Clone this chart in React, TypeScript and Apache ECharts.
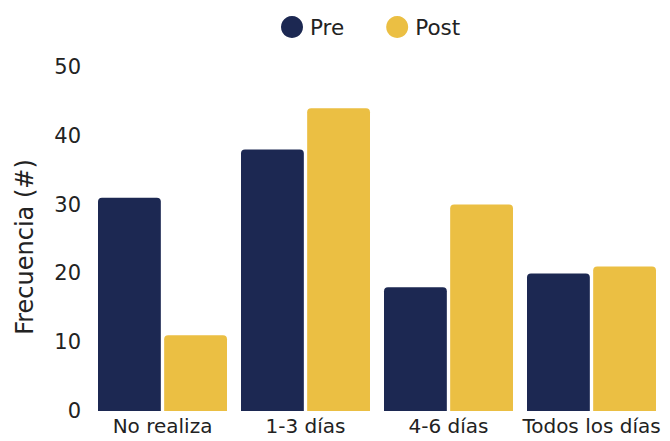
import React, { useEffect, useRef } from "react";
import * as echarts from "echarts";

const categories = ["No realiza", "1-3 días", "4-6 días", "Todos los días"];
const preValues = [31, 38, 18, 20];
const postValues = [11, 44, 30, 21];
const yTicks = { min: 0, max: 50, interval: 10 };

const FONT = "DejaVu Sans";

export default function App() {
  const ref = useRef<HTMLDivElement>(null);
  useEffect(() => {
    if (!ref.current) return;
    const chart = echarts.init(ref.current, null, { renderer: "svg" });
    chart.setOption({
      animation: false,
      textStyle: { fontFamily: FONT },
      legend: {
        top: 11,
        left: 276,
        itemWidth: 22,
        itemHeight: 22,
        itemGap: 42,
        icon: "circle",
        textStyle: { fontSize: 21.5, color: "#222", fontFamily: FONT, padding: [0, 0, 0, 2] },
        data: ["Pre", "Post"],
      },
      grid: { left: 91, right: 7, top: 67, bottom: 30, containLabel: false },
      xAxis: {
        type: "category",
        data: categories,
        axisLine: { show: false },
        axisTick: { show: false },
        axisLabel: { fontSize: 20, color: "#222", margin: 5, fontFamily: FONT, interval: 0 },
      },
      yAxis: {
        type: "value",
        min: yTicks.min,
        max: yTicks.max,
        interval: yTicks.interval,
        name: "Frecuencia (#)",
        nameLocation: "middle",
        nameGap: 54,
        nameTextStyle: { fontSize: 24, color: "#222", fontFamily: FONT, padding: [0, 16, 0, 0] },
        splitLine: { show: false },
        axisLine: { show: false },
        axisTick: { show: false },
        axisLabel: { fontSize: 21, color: "#222", margin: 10, fontFamily: FONT },
      },
      series: [
        {
          name: "Pre",
          type: "bar",
          data: preValues,
          barGap: "5.3%",
          barCategoryGap: "9.8%",
          itemStyle: { color: "#1c2852", borderRadius: [4, 4, 0, 0] },
        },
        {
          name: "Post",
          type: "bar",
          data: postValues,
          itemStyle: { color: "#ebbf43", borderRadius: [4, 4, 0, 0] },
        },
      ],
    });
    return () => chart.dispose();
  }, []);
  return <div ref={ref} style={{ width: 670, height: 441, margin: -8 }} />;
}
